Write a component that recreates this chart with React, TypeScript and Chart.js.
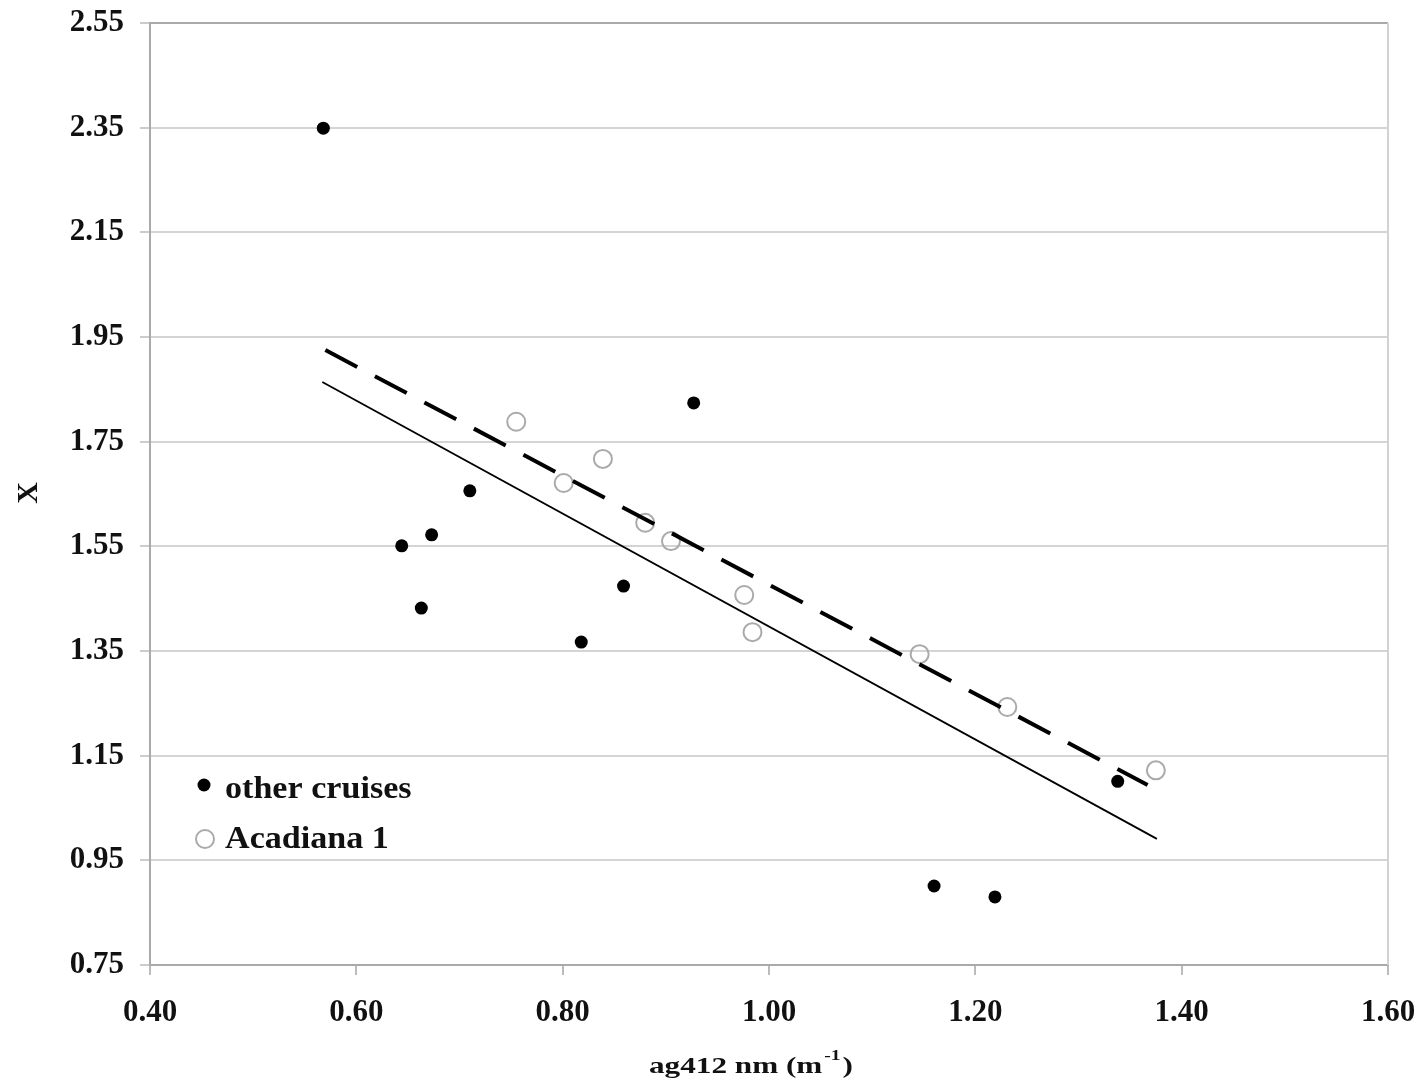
import React, { useEffect, useRef } from "react";
import { Chart, registerables } from "chart.js";

Chart.register(...registerables);

const otherLabel = "other cruises";
const otherX = [0.568, 0.644, 0.663, 0.673, 0.71, 0.818, 0.859, 0.927, 1.16, 1.219, 1.338];
const otherY = [2.349, 1.551, 1.432, 1.572, 1.656, 1.367, 1.474, 1.824, 0.901, 0.88, 1.101];

const acadLabel = "Acadiana 1";
const acadX = [0.755, 0.801, 0.839, 0.88, 0.905, 0.976, 0.984, 1.146, 1.231, 1.375];
const acadY = [1.788, 1.671, 1.717, 1.595, 1.56, 1.457, 1.386, 1.344, 1.243, 1.122];

const dashedFitX = [0.57, 1.367];
const dashedFitY = [1.925, 1.094];
const solidFitX = [0.567, 1.376];
const solidFitY = [1.864, 0.991];

const xTicks = [0.4, 0.6, 0.8, 1.0, 1.2, 1.4, 1.6];
const yTicks = [0.75, 0.95, 1.15, 1.35, 1.55, 1.75, 1.95, 2.15, 2.35, 2.55];

const xTitleMain = "ag412 nm (m";
const xTitleSup = "-1";
const xTitleEnd = ")";
const yTitle = "X";

const FONT = "'Liberation Serif', 'Times New Roman', serif";

const pts = (xs: number[], ys: number[]) => xs.map((x, i) => ({ x, y: ys[i] }));

function scaledText(ctx: any, text: string, x: number, y: number, sx: number) {
  ctx.save();
  ctx.translate(x, y);
  ctx.scale(sx, 1);
  ctx.fillText(text, 0, 0);
  ctx.restore();
}

const decorPlugin = {
  id: "decor",
  afterDraw(chart: any) {
    const ctx = chart.ctx;
    const a = chart.chartArea;
    ctx.save();
    // right border
    ctx.strokeStyle = "#d2d2d2";
    ctx.lineWidth = 2;
    ctx.beginPath();
    ctx.moveTo(a.right, a.top);
    ctx.lineTo(a.right, a.bottom);
    ctx.stroke();

    // legend
    const lx = a.left + 54;
    const ly1 = a.top + 762;
    const ly2 = a.top + 816;
    ctx.fillStyle = "#000";
    ctx.beginPath();
    ctx.arc(lx, ly1, 6.5, 0, Math.PI * 2);
    ctx.fill();
    ctx.strokeStyle = "#aaa";
    ctx.lineWidth = 2;
    ctx.beginPath();
    ctx.arc(lx + 1, ly2, 9, 0, Math.PI * 2);
    ctx.stroke();
    ctx.fillStyle = "#111";
    ctx.font = `bold 31px ${FONT}`;
    ctx.textAlign = "left";
    ctx.textBaseline = "alphabetic";
    scaledText(ctx, chart.data.datasets[2].label, a.left + 75, a.top + 775, 1.1);
    scaledText(ctx, chart.data.datasets[3].label, a.left + 75, a.top + 825, 1.1);

    // x title
    const tsx = 1.3;
    const cx = (a.left + a.right) / 2 - 20;
    const by = a.bottom + 108;
    ctx.font = `bold 24px ${FONT}`;
    const w1 = ctx.measureText(xTitleMain).width * tsx;
    ctx.font = `bold 15px ${FONT}`;
    const w2 = ctx.measureText(xTitleSup).width * tsx;
    ctx.font = `bold 24px ${FONT}`;
    const w3 = ctx.measureText(xTitleEnd).width * tsx;
    let sx = cx - (w1 + w2 + w3) / 2;
    scaledText(ctx, xTitleMain, sx, by, tsx);
    sx += w1 + 2;
    ctx.font = `bold 15px ${FONT}`;
    scaledText(ctx, xTitleSup, sx, by - 13, tsx);
    sx += w2 + 2;
    ctx.font = `bold 24px ${FONT}`;
    scaledText(ctx, xTitleEnd, sx, by, tsx);

    // y title
    ctx.translate(a.left - 121, (a.top + a.bottom) / 2 - 1);
    ctx.rotate(-Math.PI / 2);
    ctx.textAlign = "center";
    ctx.textBaseline = "middle";
    ctx.font = `bold 30px ${FONT}`;
    ctx.fillText(yTitle, 0, 0);
    ctx.restore();
  },
};

export default function App() {
  const ref = useRef<HTMLCanvasElement>(null);
  useEffect(() => {
    document.body.style.margin = "0";
    const chart = new Chart(ref.current!, {
      type: "scatter",
      data: {
        datasets: [
          {
            type: "line",
            label: "fit Acadiana",
            data: pts(dashedFitX, dashedFitY),
            borderColor: "#000",
            borderWidth: 4,
            borderDash: [36, 20],
            pointRadius: 0,
            fill: false,
          } as any,
          {
            type: "line",
            label: "fit other",
            data: pts(solidFitX, solidFitY),
            borderColor: "#000",
            borderWidth: 1.8,
            pointRadius: 0,
            fill: false,
          } as any,
          {
            label: otherLabel,
            data: pts(otherX, otherY),
            backgroundColor: "#000",
            borderColor: "#000",
            borderWidth: 0,
            pointRadius: 6.5,
          },
          {
            label: acadLabel,
            data: pts(acadX, acadY),
            backgroundColor: "rgba(255,255,255,0)",
            borderColor: "#aaa",
            borderWidth: 2,
            pointRadius: 9,
          },
        ],
      },
      options: {
        animation: false,
        responsive: false,
        maintainAspectRatio: false,
        layout: { padding: { top: 23, right: 32, left: 0, bottom: 0 } },
        plugins: { legend: { display: false }, tooltip: { enabled: false } },
        scales: {
          x: {
            type: "linear",
            min: 0.4,
            max: 1.6,
            afterBuildTicks: (s: any) => {
              s.ticks = xTicks.map((v) => ({ value: v }));
            },
            afterFit: (s: any) => {
              s.height = 121;
              s.paddingLeft = 0;
              s.paddingRight = 0;
              s.paddingTop = 0;
              s.paddingBottom = 0;
            },
            ticks: {
              callback: (v: any) => Number(v).toFixed(2),
              font: { family: FONT, size: 31, weight: "bold" },
              color: "#111",
              padding: 19,
              maxRotation: 0,
              autoSkip: false,
            },
            grid: {
              color: (c: any) => (c.tick && c.tick.value === 1.6 ? "#d2d2d2" : "rgba(0,0,0,0)"),
              tickColor: "#bbb",
              tickLength: 10,
              lineWidth: 2,
            },
            border: { color: "#aaa", width: 2 },
          },
          y: {
            type: "linear",
            min: 0.75,
            max: 2.55,
            afterBuildTicks: (s: any) => {
              s.ticks = yTicks.map((v) => ({ value: v }));
            },
            afterFit: (s: any) => {
              s.width = 150;
              s.paddingLeft = 0;
              s.paddingRight = 0;
              s.paddingTop = 0;
              s.paddingBottom = 0;
            },
            ticks: {
              callback: (v: any) => Number(v).toFixed(2),
              font: { family: FONT, size: 31, weight: "bold" },
              color: "#111",
              padding: 16,
              autoSkip: false,
            },
            grid: {
              color: (c: any) => (c.tick && c.tick.value === 2.55 ? "#aaa" : "#d4d4d4"),
              tickColor: "#ccc",
              tickLength: 10,
              lineWidth: 2,
            },
            border: { color: "#aaa", width: 2 },
          },
        },
      },
      plugins: [decorPlugin],
    });
    return () => chart.destroy();
  }, []);
  return (
    <div style={{ width: 1420, height: 1086, background: "#fff" }}>
      <canvas ref={ref} width={1420} height={1086} />
    </div>
  );
}
